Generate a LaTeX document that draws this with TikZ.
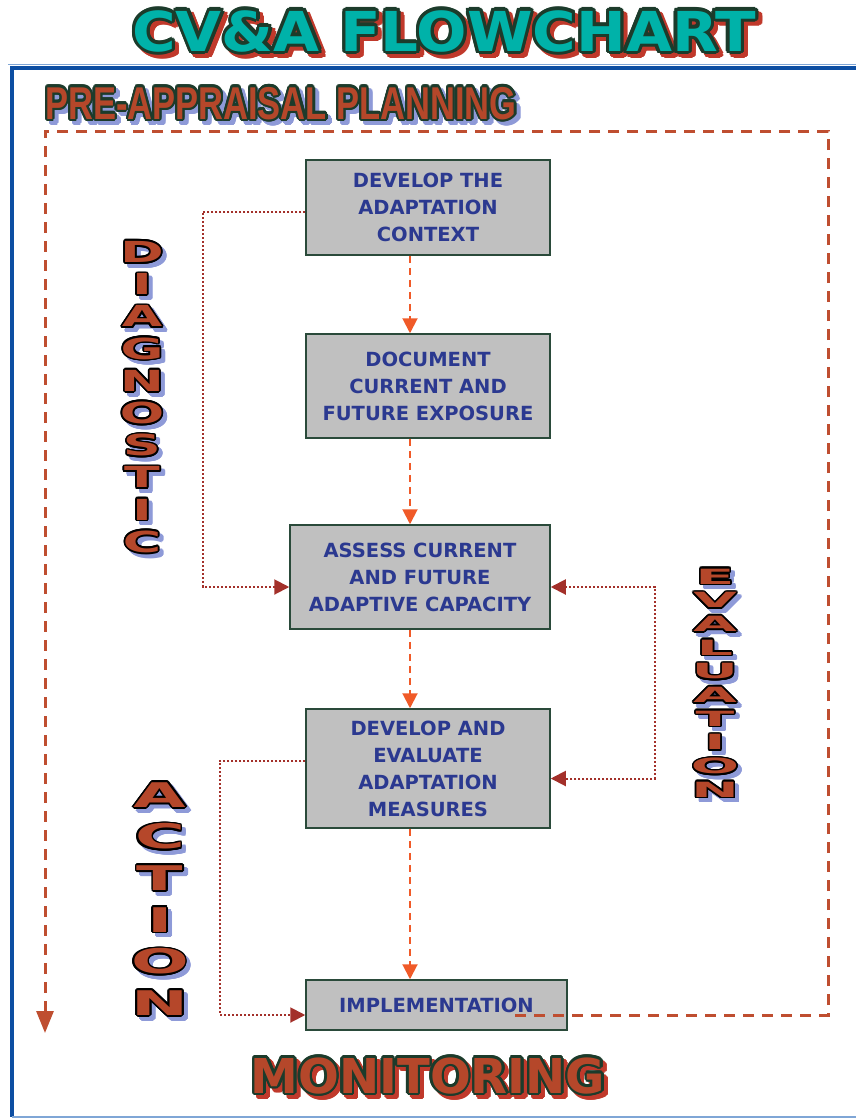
\documentclass[tikz,border=0pt]{standalone}
\usepackage{fontspec}
\usepackage{graphicx}
\setmainfont{DejaVu Sans}
\newfontfamily\narrowfont{Liberation Sans}
\usetikzlibrary{arrows.meta,positioning}
\definecolor{titleteal}{HTML}{00B2A9}
\definecolor{outlinegreen}{HTML}{1C3B2B}
\definecolor{shadowred}{HTML}{C0392B}
\definecolor{brick}{HTML}{B5472A}
\definecolor{shadowblue}{HTML}{8E9AD8}
\definecolor{boxgray}{HTML}{C0C0C0}
\definecolor{boxline}{HTML}{2A4A3A}
\definecolor{boxtext}{HTML}{2B3990}
\definecolor{flowred}{HTML}{F05A28}
\definecolor{loopred}{HTML}{A3302A}
\definecolor{monred}{HTML}{BF4E30}
\definecolor{frameblue}{HTML}{0D4EA2}
\definecolor{framelight}{HTML}{7FA6D6}

% outlined word with a drop shadow
\newcommand{\outlinedtext}[8]{%
  % #1 name, #2 position, #3 style, #4 fill, #5 outline, #6 outline width, #7 shadow
  \foreach \ang in {0,22.5,...,337.5}
    \node[#3, text=#7, shift={(4,4)}, shift={(\ang:#6)}] at (#2) {#8};
  \foreach \ang in {0,22.5,...,337.5}
    \node[#3, text=#5, shift={(\ang:#6)}] at (#2) {#8};
  \node[#3, text=#4] (#1) at (#2) {#8};
}

\tikzset{
  stepbox/.style={draw=boxline, line width=1.5pt, fill=boxgray, text=boxtext,
    font=\bfseries\fontsize{19.5}{27}\selectfont, align=center, inner sep=0pt},
  flow/.style={draw=flowred, line width=2pt, dash pattern=on 7pt off 5pt,
    -{Triangle[width=15pt,length=15pt]}},
  feedback/.style={draw=loopred, line width=2pt, dash pattern=on 2pt off 2pt,
    -{Triangle[width=15pt,length=15pt]}},
  monitor/.style={draw=monred, line width=3pt, dash pattern=on 11pt off 8pt},
  bigword/.style={font=\bfseries\fontsize{55}{60}\selectfont, inner sep=0pt, anchor=base},
  planword/.style={font=\narrowfont\bfseries\fontsize{46}{50}\selectfont, inner sep=0pt, anchor=base west},
  monword/.style={font=\bfseries\fontsize{48}{52}\selectfont, inner sep=0pt, anchor=base},
}

\begin{document}
\begin{tikzpicture}[x=1pt, y=-1pt]
    \useasboundingbox (0,0) rectangle (856,1119);

    % Frame
    \draw[framelight, line width=1pt] (8,64.5) -- (856,64.5);
    \draw[frameblue, line width=3.5pt] (10,68) -- (856,68);
    \draw[frameblue, line width=3.5pt] (12,67) -- (12,1117);
    \draw[framelight, line width=1.5pt] (12,1117) -- (856,1117);

    % Title
    \outlinedtext{title}{444,51}{bigword}{titleteal}{outlinegreen}{3.2}{shadowred}{\scalebox{1.08}[1]{CV\&A FLOWCHART}}

    % Headings
    \outlinedtext{planning}{45,119}{planword}{brick}{outlinegreen}{2.2}{shadowblue}{\scalebox{0.75}[1]{PRE-APPRAISAL PLANNING}}
    \outlinedtext{monitoring}{428,1093}{monword}{brick}{outlinegreen}{2.5}{shadowred}{MONITORING}

    % Side words
    \outlinedtext{diagnostic}{142,401}{font=\bfseries\fontsize{29}{32.2}\selectfont, inner sep=0pt}{brick}{black}{1.7}{shadowblue}{\scalebox{1.8}[1]{\begin{tabular}{@{}c@{}}D\\I\\A\\G\\N\\O\\S\\T\\I\\C\end{tabular}}}
    \outlinedtext{evaluation}{715,686}{font=\bfseries\fontsize{21}{23.7}\selectfont, inner sep=0pt}{brick}{black}{1.6}{shadowblue}{\scalebox{2.7}[1]{\begin{tabular}{@{}c@{}}E\\V\\A\\L\\U\\A\\T\\I\\O\\N\end{tabular}}}
    \outlinedtext{action}{160,903}{font=\bfseries\fontsize{34}{41.6}\selectfont, inner sep=0pt}{brick}{black}{1.7}{shadowblue}{\scalebox{2.0}[1]{\begin{tabular}{@{}c@{}}A\\C\\T\\I\\O\\N\end{tabular}}}

    % === Steps ===
    \node[stepbox, minimum width=244pt, minimum height=95pt] (context) at (428,207.5) {DEVELOP THE\\ADAPTATION\\CONTEXT};
    \node[stepbox, minimum width=244pt, minimum height=104pt] (exposure) at (428,386) {DOCUMENT\\CURRENT AND\\FUTURE EXPOSURE};
    \node[stepbox, minimum width=260pt, minimum height=104pt] (capacity) at (420,577) {ASSESS CURRENT\\AND FUTURE\\ADAPTIVE CAPACITY};
    \node[stepbox, minimum width=244pt, minimum height=119pt] (measures) at (428,768.5) {DEVELOP AND\\EVALUATE\\ADAPTATION\\MEASURES};
    \node[stepbox, minimum width=261pt, minimum height=50pt] (implementation) at (436.5,1005) {IMPLEMENTATION};

    % Main flow
    \coordinate (axis) at (410,0);
    \draw[flow] (context.south -| axis) -- (exposure.north -| axis);
    \draw[flow] (exposure.south -| axis) -- (capacity.north -| axis);
    \draw[flow] (capacity.south -| axis) -- (measures.north -| axis);
    \draw[flow] (measures.south -| axis) -- (implementation.north -| axis);

    % Diagnostic loop
    \coordinate (diagx) at (203,0);
    \coordinate (capin) at ([yshift=-10pt]capacity.west);
    \draw[feedback] ([yshift=-4pt]context.west) -| (diagx |- capin) -- (capin);

    % Evaluation loop
    \coordinate (evalx) at (655,0);
    \coordinate (capout) at ([yshift=-10pt]capacity.east);
    \coordinate (measout) at ([yshift=-10pt]measures.east);
    \draw[feedback, {Triangle[width=15pt,length=15pt]}-{Triangle[width=15pt,length=15pt]}] (capout) -| (evalx |- measout) -- (measout);

    % Action loop
    \coordinate (actx) at (220,0);
    \coordinate (implin) at ([yshift=-10pt]implementation.west);
    \draw[feedback] ([yshift=8pt]measures.west) -| (actx |- implin) -- (implin);

    % Monitoring loop
    \coordinate (monstart) at (515,1015);
    \coordinate (montop) at (828,131);
    \coordinate (monend) at (45,1033);
    \draw[monitor, -{Triangle[width=17pt,length=22pt]}] (monstart) -| (montop) -| (monend);
\end{tikzpicture}
\end{document}
